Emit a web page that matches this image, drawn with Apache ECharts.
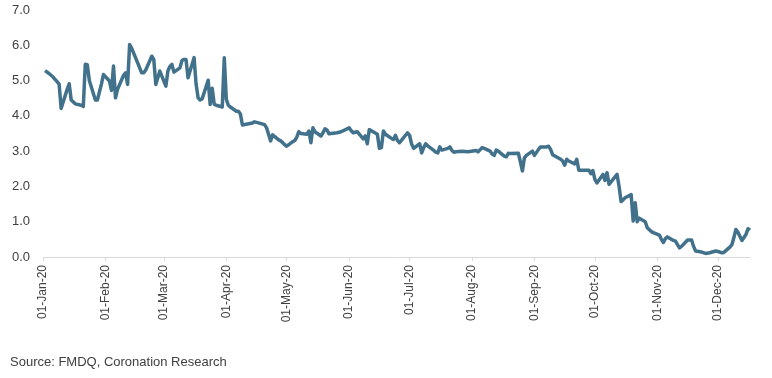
<!DOCTYPE html>
<html>
<head>
<meta charset="utf-8">
<script src="https://cdn.jsdelivr.net/npm/echarts@6/dist/echarts.min.js"></script>
<style>
html,body{margin:0;padding:0;background:#fff;}
#chart{width:772px;height:378px;}
</style>
</head>
<body>
<div id="chart"></div>
<script>
var dates = [
'2020-01-02','2020-01-04','2020-01-06','2020-01-08','2020-01-09','2020-01-10','2020-01-13','2020-01-14','2020-01-15','2020-01-17',
'2020-01-20','2020-01-21','2020-01-22','2020-01-23','2020-01-24','2020-01-27','2020-01-28','2020-01-30','2020-01-31','2020-02-03',
'2020-02-04','2020-02-05','2020-02-06','2020-02-07','2020-02-10','2020-02-11','2020-02-12','2020-02-13','2020-02-14','2020-02-17',
'2020-02-19','2020-02-20','2020-02-21','2020-02-24','2020-02-25','2020-02-26','2020-02-28','2020-03-02','2020-03-03','2020-03-04',
'2020-03-05','2020-03-06','2020-03-09','2020-03-10','2020-03-11','2020-03-12','2020-03-13','2020-03-16','2020-03-17','2020-03-18',
'2020-03-19','2020-03-20','2020-03-23','2020-03-24','2020-03-25','2020-03-26','2020-03-27','2020-03-30','2020-03-31','2020-04-01',
'2020-04-02','2020-04-03','2020-04-06','2020-04-07','2020-04-08','2020-04-09','2020-04-14','2020-04-15','2020-04-17','2020-04-20',
'2020-04-21','2020-04-23','2020-04-24','2020-04-27','2020-04-28','2020-04-29','2020-04-30','2020-05-01','2020-05-04','2020-05-05',
'2020-05-06','2020-05-07','2020-05-08','2020-05-11','2020-05-12','2020-05-13','2020-05-14','2020-05-15','2020-05-18','2020-05-19',
'2020-05-20','2020-05-21','2020-05-22','2020-05-26','2020-05-28','2020-06-01','2020-06-02','2020-06-03','2020-06-05','2020-06-08',
'2020-06-09','2020-06-10','2020-06-11','2020-06-12','2020-06-15','2020-06-16','2020-06-17','2020-06-18','2020-06-19','2020-06-22',
'2020-06-23','2020-06-24','2020-06-25','2020-06-26','2020-06-29','2020-06-30','2020-07-01','2020-07-02','2020-07-03','2020-07-06',
'2020-07-07','2020-07-08','2020-07-09','2020-07-10','2020-07-13','2020-07-14','2020-07-15','2020-07-16','2020-07-17','2020-07-20',
'2020-07-21','2020-07-22','2020-07-23','2020-07-24','2020-07-27','2020-07-30','2020-08-03','2020-08-04','2020-08-06','2020-08-07',
'2020-08-10','2020-08-11','2020-08-12','2020-08-13','2020-08-14','2020-08-17','2020-08-18','2020-08-19','2020-08-20','2020-08-24',
'2020-08-25','2020-08-26','2020-08-27','2020-08-28','2020-08-31','2020-09-01','2020-09-03','2020-09-04','2020-09-07','2020-09-08',
'2020-09-09','2020-09-10','2020-09-14','2020-09-15','2020-09-16','2020-09-17','2020-09-18','2020-09-21','2020-09-22','2020-09-23',
'2020-09-25','2020-09-28','2020-09-29','2020-09-30','2020-10-01','2020-10-02','2020-10-05','2020-10-06','2020-10-07','2020-10-08',
'2020-10-12','2020-10-13','2020-10-14','2020-10-15','2020-10-16','2020-10-19','2020-10-20','2020-10-21','2020-10-22','2020-10-23',
'2020-10-26','2020-10-27','2020-10-29','2020-10-30','2020-11-02','2020-11-03','2020-11-04','2020-11-05','2020-11-06','2020-11-09',
'2020-11-10','2020-11-11','2020-11-12','2020-11-13','2020-11-16','2020-11-18','2020-11-19','2020-11-20','2020-11-23','2020-11-25',
'2020-11-27','2020-11-30','2020-12-02','2020-12-03','2020-12-04','2020-12-07','2020-12-08','2020-12-09','2020-12-10','2020-12-11',
'2020-12-13','2020-12-15','2020-12-16','2020-12-17'
];
var values = [
5.28,5.20,5.10,4.97,4.90,4.21,4.75,4.91,4.45,4.34,
4.30,4.27,5.46,5.45,5.00,4.45,4.45,4.90,5.17,4.99,
4.72,5.41,4.51,4.75,5.15,5.22,4.89,6.02,5.92,5.50,
5.22,5.22,5.30,5.69,5.60,4.89,5.27,4.84,5.27,5.40,
5.46,5.24,5.36,5.57,5.60,5.60,5.08,5.65,4.90,4.51,
4.45,4.48,5.01,4.32,4.78,4.33,4.30,4.25,5.65,4.47,
4.30,4.25,4.13,4.13,4.05,3.74,3.80,3.83,3.80,3.75,
3.66,3.29,3.46,3.32,3.29,3.24,3.18,3.14,3.27,3.30,
3.40,3.55,3.50,3.48,3.57,3.24,3.66,3.55,3.43,3.52,
3.63,3.60,3.49,3.52,3.55,3.66,3.58,3.52,3.55,3.35,
3.43,3.21,3.61,3.58,3.48,3.08,3.10,3.57,3.48,3.36,
3.33,3.45,3.30,3.24,3.45,3.52,3.45,3.20,3.08,3.21,
2.95,3.10,3.21,3.15,3.02,2.97,2.95,3.12,3.03,3.08,
3.12,3.02,2.97,2.98,3.00,2.98,3.02,2.98,3.10,3.08,
3.00,2.92,2.88,3.03,3.00,2.86,2.84,2.94,2.93,2.94,
2.70,2.44,2.81,2.88,3.00,2.88,3.05,3.12,3.12,3.14,
3.05,2.90,2.77,2.72,2.60,2.77,2.72,2.64,2.77,2.46,
2.46,2.46,2.36,2.45,2.20,2.10,2.34,2.17,2.39,2.06,
2.34,2.00,1.57,1.62,1.68,1.77,1.02,1.54,1.00,1.10,
1.00,0.83,0.72,0.69,0.62,0.50,0.41,0.52,0.57,0.47,
0.45,0.35,0.26,0.30,0.48,0.48,0.30,0.17,0.14,0.10,
0.12,0.17,0.14,0.12,0.13,0.28,0.35,0.55,0.78,0.70,
0.47,0.64,0.80,0.76
];
var monthTicks = ['2020-01-01','2020-02-01','2020-03-01','2020-04-01','2020-05-01','2020-06-01',
  '2020-07-01','2020-08-01','2020-09-01','2020-10-01','2020-11-01','2020-12-01'];
var monthNames = ['Jan','Feb','Mar','Apr','May','Jun','Jul','Aug','Sep','Oct','Nov','Dec'];
var axisMin = '2020-01-01';
var axisMax = '2020-12-17';
var sourceText = 'Source: FMDQ, Coronation Research';

function ts(s){ var p = s.split('-'); return Date.UTC(+p[0], +p[1]-1, +p[2]); }
var tickVals = monthTicks.map(ts);
var seriesData = dates.map(function(d,i){ return [ts(d), values[i]]; });

var chart = echarts.init(document.getElementById('chart'), null, {renderer:'canvas'});
chart.setOption({
  animation: false,
  backgroundColor: '#ffffff',
  grid: {left: 43, right: 22, top: 10, bottom: 121, containLabel: false},
  xAxis: {
    type: 'value',
    min: ts(axisMin),
    max: ts(axisMax),
    axisLine: {show: true, lineStyle: {color: '#d9d9d9', width: 1}},
    axisTick: {show: true, customValues: tickVals, length: 4, lineStyle: {color: '#d9d9d9'}},
    splitLine: {show: false},
    axisLabel: {
      customValues: tickVals,
      rotate: 90,
      margin: 8,
      color: '#404040',
      fontFamily: 'Liberation Sans',
      fontSize: 12,
      formatter: function(v){
        var d = new Date(v);
        var dd = ('0' + d.getUTCDate()).slice(-2);
        return dd + '-' + monthNames[d.getUTCMonth()] + '-' + String(d.getUTCFullYear()).slice(-2);
      }
    }
  },
  yAxis: {
    type: 'value',
    min: 0, max: 7, interval: 1,
    axisLine: {show: false},
    axisTick: {show: false},
    splitLine: {show: false},
    axisLabel: {
      color: '#404040',
      fontFamily: 'Liberation Sans',
      fontSize: 13,
      margin: 13,
      formatter: function(v){ return v.toFixed(1); }
    }
  },
  graphic: [{
    type: 'text', left: 10, top: 356,
    style: {text: sourceText, fill: '#404040', font: '13px "Liberation Sans"'}
  }],
  series: [{
    type: 'line',
    data: seriesData,
    showSymbol: false,
    symbol: 'none',
    lineStyle: {color: '#42718b', width: 3.5, join: 'round'},
    itemStyle: {color: '#42718b'}
  }]
});
</script>
</body>
</html>
